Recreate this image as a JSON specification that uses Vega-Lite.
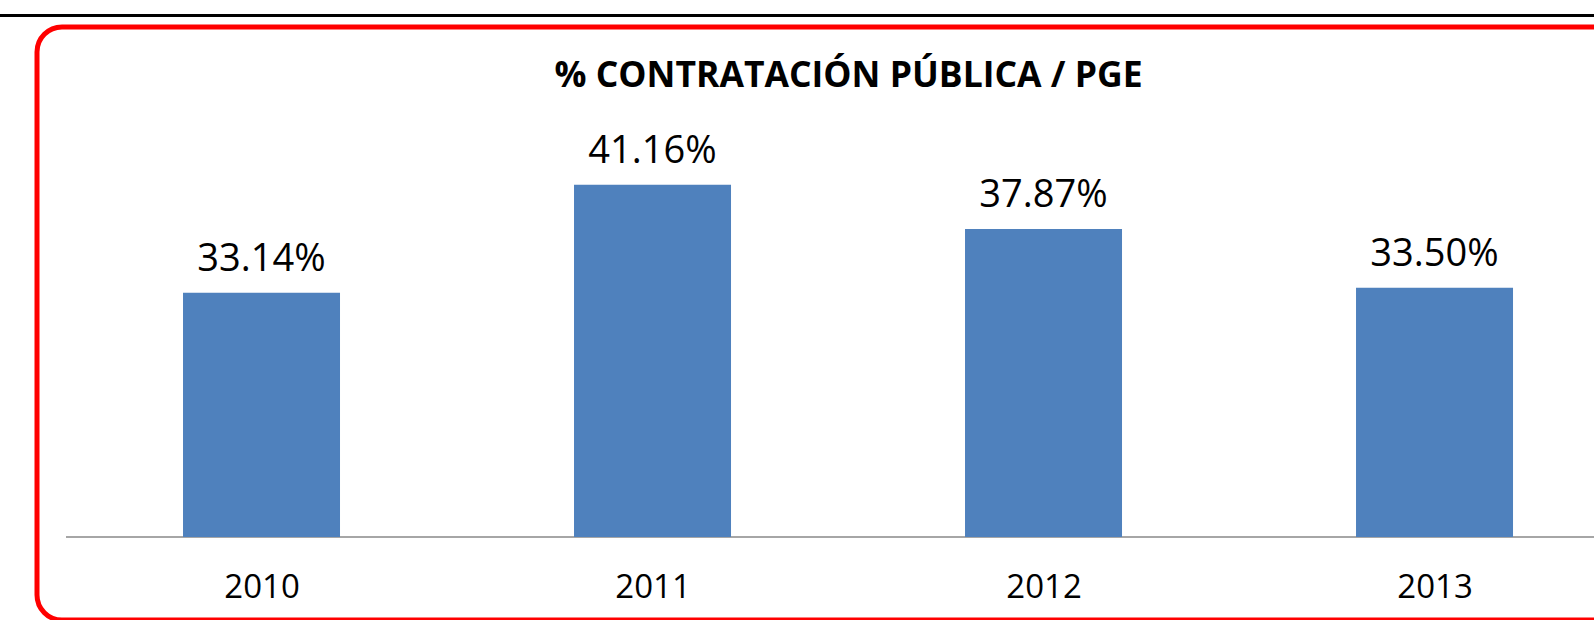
{
  "$schema": "https://vega.github.io/schema/vega-lite/v6.json",
  "width": 1587,
  "height": 593,
  "autosize": {"type": "none"},
  "padding": {"left": 37, "top": 27, "right": -30, "bottom": 0},
  "background": "white",
  "view": {"stroke": "#FF0000", "strokeWidth": 5, "cornerRadius": 25, "fill": "white"},
  "title": {
    "text": "% CONTRATACIÓN PÚBLICA / PGE",
    "font": "Open Sans",
    "fontSize": 35.5,
    "fontWeight": "bold",
    "color": "#000000",
    "anchor": "middle",
    "frame": "group",
    "dx": 18,
    "dy": 49,
    "offset": -60,
    "baseline": "alphabetic"
  },
  "data": {
    "values": [
      {"year": 2010, "value": 0.3314},
      {"year": 2011, "value": 0.4116},
      {"year": 2012, "value": 0.3787},
      {"year": 2013, "value": 0.3350}
    ]
  },
  "layer": [
    {
      "mark": {"type": "rule", "color": "#000000", "strokeWidth": 3},
      "encoding": {
        "x": {
          "datum": 2009.3,
          "type": "quantitative",
          "scale": {"domain": [2009.4258, 2013.4846], "nice": false, "zero": false, "padding": 0},
          "axis": {
            "values": [2010, 2011, 2012, 2013],
            "format": "d",
            "title": null,
            "domain": false,
            "ticks": false,
            "tickSize": 0,
            "grid": false,
            "offset": -83,
            "labelPadding": 60,
            "labelBaseline": "alphabetic",
            "labelFont": "Open Sans",
            "labelFontSize": 33,
            "labelColor": "#000000",
            "labelFlush": false,
            "labelOverlap": false
          }
        },
        "x2": {"datum": 2014.5},
        "y": {"datum": 0.53716, "type": "quantitative", "scale": {"domain": [0.08838, 0.52862], "nice": false, "zero": false, "padding": 0}, "axis": null}
      }
    },
    {
      "mark": {"type": "rule", "color": "#A6A6A6", "strokeWidth": 1.5},
      "encoding": {
        "x": {"datum": 2009.5, "type": "quantitative"},
        "x2": {"datum": 2014.5},
        "y": {"datum": 0.15, "type": "quantitative"}
      }
    },
    {
      "mark": {"type": "bar", "width": 157, "color": "#4F81BD"},
      "encoding": {
        "x": {"field": "year", "type": "quantitative"},
        "y": {"field": "value", "type": "quantitative"},
        "y2": {"datum": 0.15}
      }
    },
    {
      "mark": {"type": "text", "baseline": "alphabetic", "dy": -22, "font": "Open Sans", "fontSize": 38, "color": "#000000"},
      "encoding": {
        "x": {"field": "year", "type": "quantitative"},
        "y": {"field": "value", "type": "quantitative"},
        "text": {"field": "value", "type": "quantitative", "format": ".2%"}
      }
    }
  ]
}
